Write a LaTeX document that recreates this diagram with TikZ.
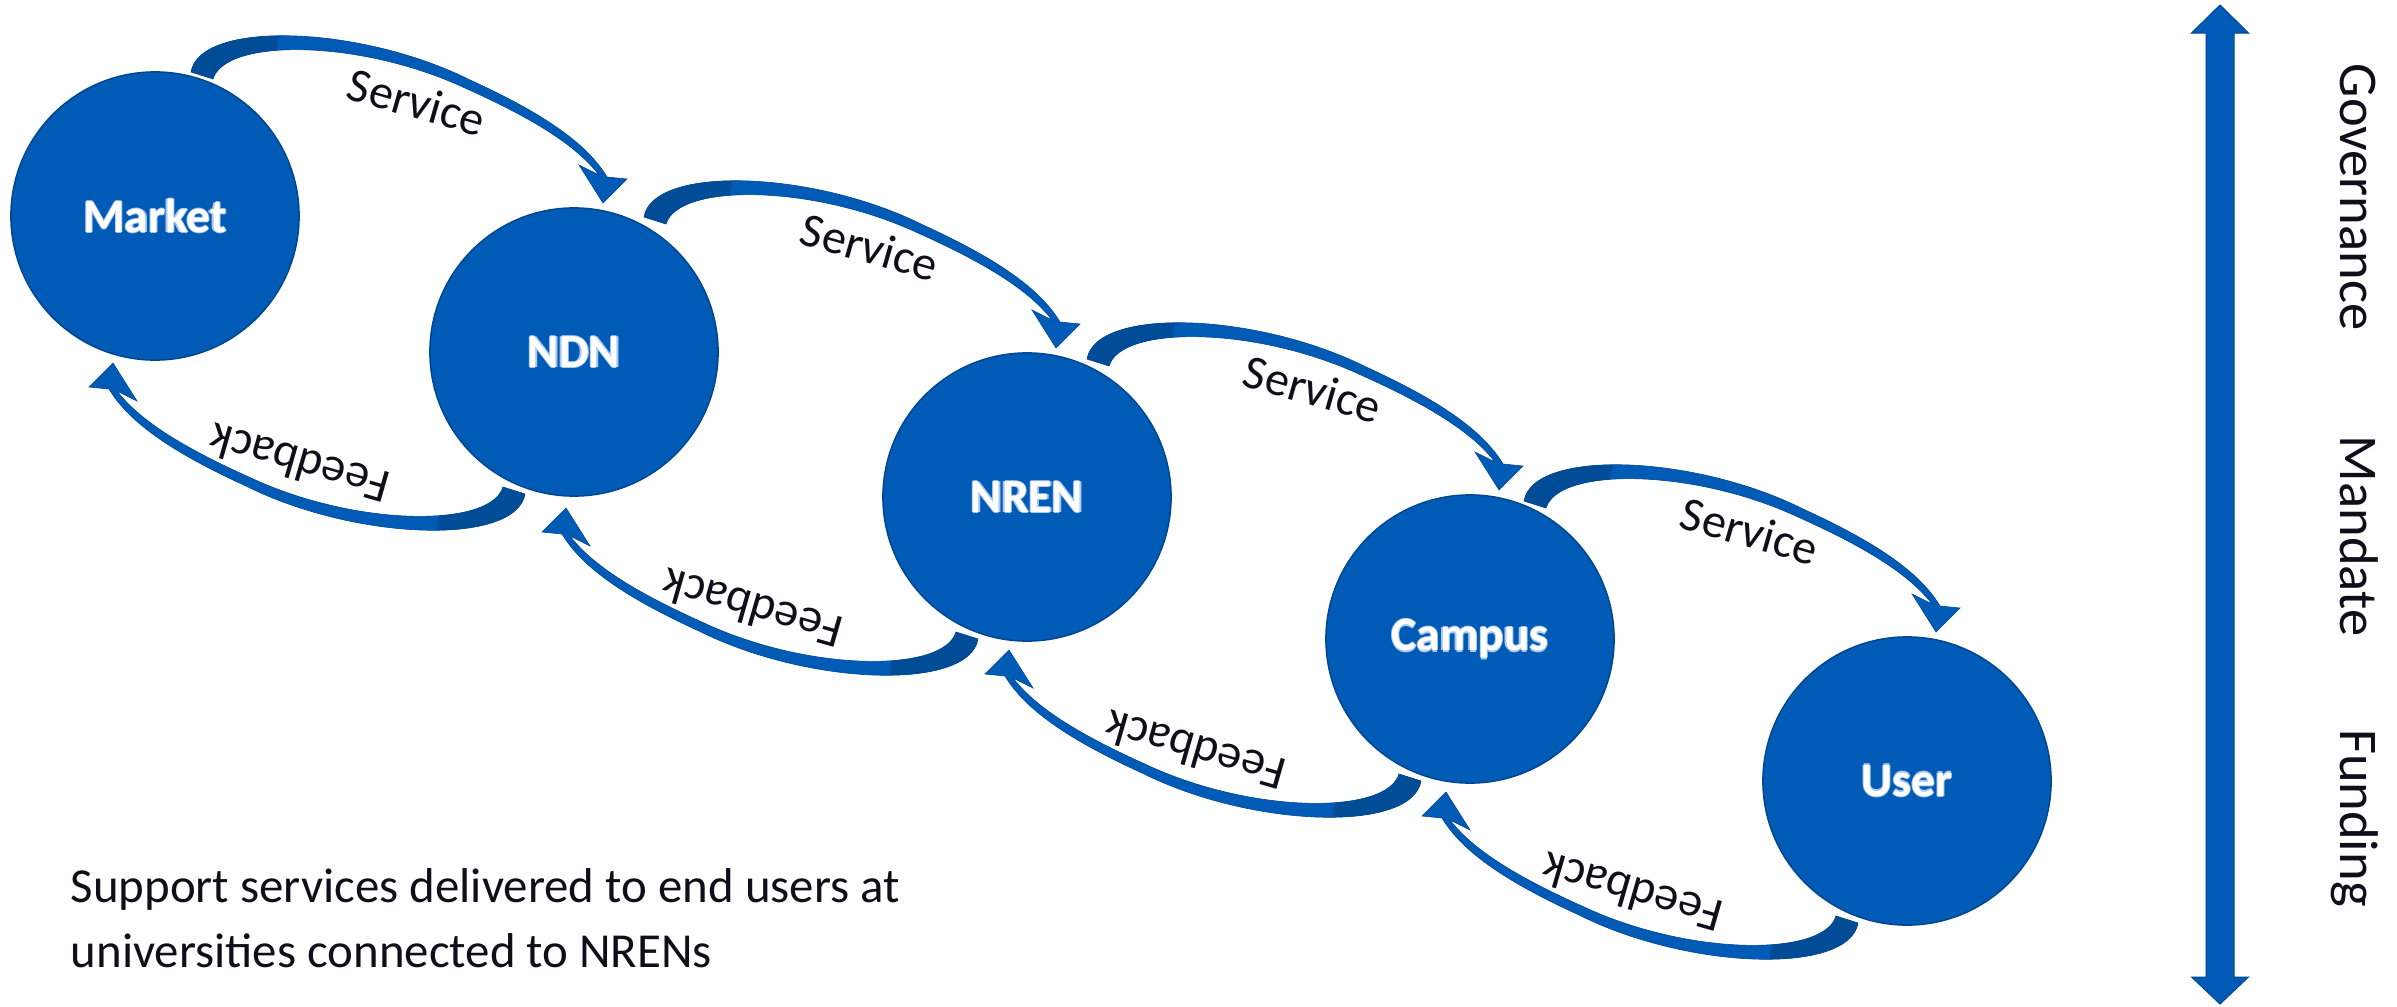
\documentclass[tikz,border=0pt]{standalone}
\usepackage{fontspec}
\setmainfont{Carlito}
\usetikzlibrary{calc}
\definecolor{cfill}{RGB}{0,91,182}
\definecolor{cedge}{RGB}{0,70,145}
\definecolor{adark}{RGB}{0,76,150}
\definecolor{txt}{RGB}{15,15,25}
\definecolor{glowc}{RGB}{170,200,238}
\newcommand\glow[1]{\leavevmode
  \rlap{\textcolor{glowc}{\raisebox{0.35pt}{#1}}}%
  \rlap{\textcolor{glowc}{\raisebox{-0.35pt}{#1}}}%
  \rlap{\textcolor{glowc}{\hspace{0.35pt}#1}}%
  \rlap{\textcolor{glowc}{\hspace{-0.35pt}#1}}%
  #1}
\tikzset{
  hub/.style={circle, fill=cfill, draw=cedge, line width=0.15mm, minimum size=2.88cm,
    inner sep=0pt, text=white, font=\bfseries\fontsize{13.5}{16}\selectfont},
  band/.style={fill=cfill, draw=cedge, line width=0.06mm},
  flowlabel/.style={font=\fontsize{13.7}{16}\selectfont, text=txt, inner sep=0pt},
  sidelabel/.style={font=\fontsize{15.5}{18}\selectfont, text=txt, inner sep=0pt, rotate=-90, anchor=base},
  notelabel/.style={font=\fontsize{13.9}{18}\selectfont, text=txt, inner sep=0pt, anchor=base west},
}
\newcommand\bandpath{(-383,-280) .. controls (-374,-332) and (-214,-327) .. (-104,-272)
  .. controls (-34,-240) and (12,-210) .. (33,-175) -- (53,-173) -- (29,-149) -- (5,-187) -- (25,-177)
  .. controls (2,-207) and (-42,-234) .. (-109,-264)
  .. controls (-214,-313) and (-349,-314) .. (-361,-273) -- cycle}
\newcommand\arrowshape{%
  \fill[cfill] \bandpath;
  \begin{scope}
    \clip \bandpath;
    \fill[adark] (-420,-360) -- (-285,-360) -- (-300,-290) -- (-420,-250) -- cycle;
  \end{scope}
  \draw[cedge, line width=0.06mm] \bandpath;
}
% #1 left node, #2 right node
\newcommand\linkpair[2]{%
  \begin{scope}[shift={(#2)}]
    \arrowshape
    \node[flowlabel, rotate=-16] (#1s) at (-157,-250) {Service};
  \end{scope}
  \begin{scope}[shift={(#2)}, rotate around={180:(-216,-69)}]
    \arrowshape
    \node[flowlabel, rotate=164] (#1f) at (-157,-250) {Feedback};
  \end{scope}
}
\begin{document}
\begin{tikzpicture}[x=0.01cm, y=-0.01cm]
  \useasboundingbox (0,0) rectangle (2397,1006);
  \fill[white] (0,0) rectangle (2397,1006);
  \node[hub] (market) at (155,216) {\glow{Market}};
  \node[hub] (ndn) at (574,352) {\glow{NDN}};
  \node[hub] (nren) at (1027,497) {\glow{NREN}};
  \node[hub] (campus) at (1470,639) {\glow{Campus}};
  \node[hub] (user) at (1907,781) {\glow{User}};
  \linkpair{market}{ndn}
  \linkpair{ndn}{nren}
  \linkpair{nren}{campus}
  \linkpair{campus}{user}
  % vertical double arrow
  \draw[band, line width=0.1mm] (2220,5) -- (2248.5,33) -- (2234,33) -- (2234,977) -- (2248.5,977)
    -- (2220,1004) -- (2191.5,977) -- (2206,977) -- (2206,33) -- (2191.5,33) -- cycle;
  \node[sidelabel] (gov) at (2340,197) {Governance};
  \node[sidelabel] (man) at (2340,536) {Mandate};
  \node[sidelabel] (fun) at (2340,818) {Funding};
  \node[notelabel] (note1) at (70,902) {Support services delivered to end users at};
  \node[notelabel] (note2) at (70,967) {universities connected to NRENs};
\end{tikzpicture}
\end{document}
